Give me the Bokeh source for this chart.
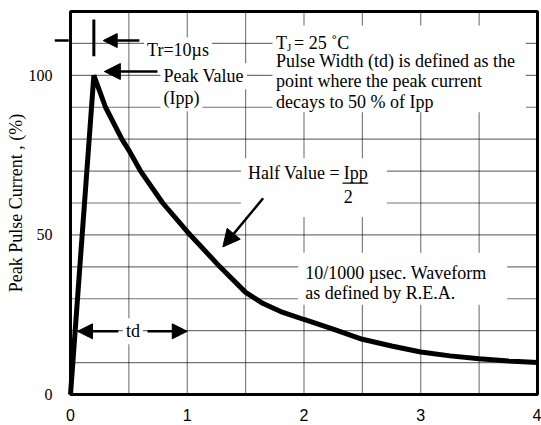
from bokeh.plotting import figure
from bokeh.models import (Range1d, FixedTicker, Label, Arrow, NormalHead, BoxAnnotation)
from bokeh.embed import file_html
from bokeh.resources import INLINE

# ---- data ----
time_ms = [0.0, 0.2, 0.3, 0.44, 0.5, 0.6, 0.79, 1.0, 1.28, 1.5, 1.65, 1.8, 2.0,
           2.25, 2.5, 2.75, 3.0, 3.25, 3.5, 3.75, 4.0]
current_pct = [0, 100, 90, 80, 76.5, 70, 60, 51, 40, 32, 28.5, 26, 23.5,
               20.5, 17.3, 15.2, 13.3, 12.1, 11.2, 10.5, 10]
x_ticks = [0, 1, 2, 3, 4]
y_ticks = [0, 50, 100]
x_grid = [0.5, 1, 1.5, 2, 2.5, 3, 3.5]
y_grid = [10, 20, 30, 40, 50, 60, 70, 80, 90, 100, 110]
X_MIN, X_MAX = 0, 4
Y_MIN, Y_MAX = 0, 120

SERIF = "Liberation Serif"
SANS = "Liberation Sans"
FS = "18px"

p = figure(width=541, height=425, output_backend="svg", toolbar_location=None,
           x_range=Range1d(X_MIN, X_MAX), y_range=Range1d(Y_MIN, Y_MAX),
           min_border_left=70, min_border_right=4, min_border_top=11, min_border_bottom=31)
p.outline_line_color = "black"
p.outline_line_width = 3

p.xaxis.ticker = FixedTicker(ticks=x_ticks)
p.yaxis.ticker = FixedTicker(ticks=y_ticks)
p.xgrid.visible = False
p.ygrid.visible = False

for ax in (p.xaxis, p.yaxis):
    ax.axis_line_color = None
    ax.major_tick_line_color = None
    ax.minor_tick_line_color = None
    ax.major_tick_out = 0
    ax.major_tick_in = 0
    ax.major_label_text_color = "black"

p.xaxis.major_label_text_font = SANS
p.xaxis.major_label_text_font_size = "16px"
p.xaxis.major_label_standoff = 14
p.yaxis.major_label_text_font = SERIF
p.yaxis.major_label_text_font_size = "16px"
p.yaxis.major_label_standoff = 18
p.yaxis.axis_label = "Peak Pulse Current , (%)"
p.yaxis.axis_label_text_font = SERIF
p.yaxis.axis_label_text_font_size = "18px"
p.yaxis.axis_label_text_font_style = "normal"
p.yaxis.axis_label_text_color = "black"
p.yaxis.axis_label_standoff = 0

# grid lines (plain line annotations at each grid value, translucent black)
for v in x_grid:
    p.add_layout(Arrow(x_start=v, y_start=Y_MIN, x_end=v, y_end=Y_MAX, end=None,
                       line_color="black", line_alpha=0.55, line_width=1.1))
for v in y_grid:
    p.add_layout(Arrow(x_start=X_MIN, y_start=v, x_end=X_MAX, y_end=v, end=None,
                       line_color="black", line_alpha=0.55, line_width=1.1))

# curve (kept above the grid)
curve = p.line(time_ms, current_pct, line_color="black", line_width=5)
curve.level = "overlay"

# white areas that interrupt the grid around the text blocks
for l, r, b, t in [(1.73, 3.9, 88.4, 115.6), (1.46, 2.71, 55.6, 74.0), (1.95, 3.74, 28.1, 44.4)]:
    p.add_layout(BoxAnnotation(left=l, right=r, bottom=b, top=t, fill_color="white",
                               fill_alpha=1, line_color=None))


def lab(x, y, text, size=FS, align="left", bg=False, xo=0, yo=0, font=SERIF):
    kw = {}
    if bg:
        kw = dict(background_fill_color="white", background_fill_alpha=1, padding=3)
    p.add_layout(Label(x=x, y=y, text=text, text_font=font, text_font_size=size,
                       text_align=align, text_baseline="middle", text_color="black",
                       x_offset=xo, y_offset=yo, **kw))


def arrow(x0, y0, x1, y1, size=15, width=2.5, head=True):
    end = NormalHead(size=size, fill_color="black", line_color="black", line_width=1) if head else None
    p.add_layout(Arrow(x_start=x0, y_start=y0, x_end=x1, y_end=y1, end=end,
                       line_color="black", line_width=width))


# Tr annotation
arrow(-0.385, 110.9, -0.015, 110.9, size=14)
lab(0.63, 107.8, "Tr=10µs", bg=True)
arrow(0.59, 110.9, 0.28, 110.9, size=14)
arrow(0.2, 106, 0.2, 117.5, head=False, width=3)

# Peak value
lab(0.77, 99.7, "Peak Value", bg=True)
lab(0.77, 92.8, "(Ipp)", bg=True)
arrow(0.745, 101.2, 0.29, 101.2, size=16)

# TJ block
lab(1.76, 110, "T")
lab(1.76, 110, "J", size="11px", xo=11, yo=-4)
lab(1.76, 110, "= 25 ˚C", xo=18)
lab(1.76, 104.4, "Pulse Width (td) is defined as the")
lab(1.76, 98.1, "point where the peak current")
lab(1.76, 91.8, "decays to 50 % of Ipp")

# Half value
lab(1.52, 69.4, "Half Value = ")
lab(2.34, 69.4, "Ipp")
arrow(2.33, 66.2, 2.55, 66.2, head=False, width=1.3)
lab(2.34, 62.0, "2")
arrow(1.65, 61.5, 1.305, 46.25, size=17, width=2.5)

# waveform text
lab(2.01, 38.0, "10/1000 µsec. Waveform")
lab(2.01, 31.9, "as defined by R.E.A.")

# td
lab(0.535, 19.8, "td", align="center", bg=True)
arrow(0.41, 19.8, 0.06, 19.8, size=15)
arrow(0.66, 19.8, 1.0, 19.8, size=15)

open("out.html", "w").write(file_html(p, INLINE))
